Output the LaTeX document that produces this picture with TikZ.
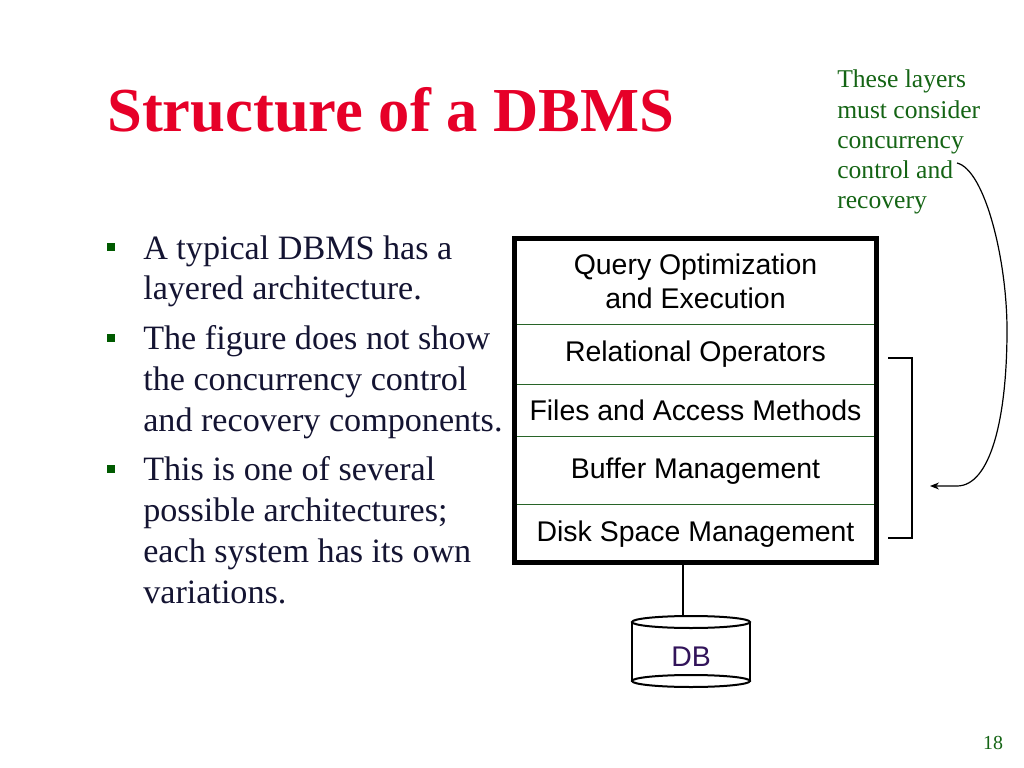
\documentclass[tikz,border=0pt]{standalone}
\usepackage{fontspec}
\setmainfont{Liberation Serif}
\newfontfamily\layerfont{Liberation Sans}
\usetikzlibrary{arrows.meta,positioning}
\newcommand{\pxunit}{0.703125pt}
\definecolor{titlered}{RGB}{230,0,40}
\definecolor{notegreen}{RGB}{20,100,20}
\definecolor{bulletgreen}{RGB}{0,90,0}
\definecolor{bodyink}{RGB}{20,20,50}
\definecolor{dbpurple}{RGB}{50,20,90}
\definecolor{sepgreen}{RGB}{40,100,40}

\begin{document}
\begin{tikzpicture}[x=\pxunit,y=-\pxunit]
    \useasboundingbox (0,0) rectangle (1024,768);

    \node[anchor=base west, inner sep=0, text=titlered,
        font=\fontsize{44}{50}\selectfont\bfseries] (title) at (107,132) {Structure of a DBMS};

    % base of a multi-line node is its last line
    \begin{scope}[every node/.style={anchor=base west, inner sep=0, align=left,
            text=bodyink, font=\fontsize{24}{28.8}\selectfont}]
        \node (b1) at (143,300) {A typical DBMS has a\\layered architecture.};
        \node (b2) at (143,431) {The figure does not show\\the concurrency control\\and recovery components.};
        \node (b3) at (143,603) {This is one of several\\possible architectures;\\each system has its own\\variations.};
    \end{scope}

    \begin{scope}[every node/.style={fill=bulletgreen, minimum size=8*\pxunit, inner sep=0}]
        \node (sq1) at (111,247) {};
        \node (sq2) at (111,338) {};
        \node (sq3) at (111,469) {};
    \end{scope}

    \begin{scope}[every node/.style={minimum width=361*\pxunit, inner sep=0, align=center,
            font=\layerfont\fontsize{20}{23.5}\selectfont}]
        \node[minimum height=85*\pxunit] (query) at (695.5,281.5) {Query Optimization\\and Execution};
        \node[minimum height=60*\pxunit, below=0pt of query] (relop) {Relational Operators};
        \node[minimum height=51*\pxunit, below=0pt of relop] (files) {Files and Access Methods};
        \node[minimum height=68*\pxunit, below=0pt of files] (buffer) {Buffer Management};
        \node[minimum height=57*\pxunit, below=0pt of buffer] (disk) {Disk Space Management};
    \end{scope}

    \foreach \lay in {relop,files,buffer,disk}
        \draw[sepgreen, line width=1*\pxunit] (\lay.north west) -- (\lay.north east);
    \draw[line width=4.5*\pxunit] (query.north west) rectangle (disk.south east);

    % the database drum
    \draw[line width=2*\pxunit, fill=white] (632,622) -- (632,681) -- (750,681) -- (750,622);
    \draw[line width=2*\pxunit, fill=white] (691,681) ellipse [x radius=59, y radius=6];
    \draw[line width=2*\pxunit, fill=white] (691,622) ellipse [x radius=59, y radius=6];
    \node[text=dbpurple, font=\layerfont\fontsize{20}{24}\selectfont] (db) at (691,657) {DB};
    \coordinate (dbtop) at (683,616);
    \draw[line width=2*\pxunit] (disk.south -| dbtop) -- (dbtop);

    \node[anchor=base west, inner sep=0, align=left, text=notegreen,
        font=\fontsize{18}{21.3}\selectfont] (note) at (837,209)
        {These layers\\must consider\\concurrency\\control and\\recovery};

    \draw[line width=1.2*\pxunit] (888,358) -- (912,358) -- (912,538) -- (888,538);

    \coordinate (curvestart) at (957,163);
    \coordinate (curveend) at (930,486);
    \draw[line width=1.2*\pxunit, -{Stealth[length=9*\pxunit, width=7*\pxunit]}]
        (curvestart) .. controls (985,170) and (1007,260) .. (1007,330)
        .. controls (1007,420) and (990,486) .. (957,486) -- (curveend);

    \node[anchor=base, inner sep=0, text=notegreen,
        font=\fontsize{14}{16}\selectfont] (pagenum) at (993,749) {18};
\end{tikzpicture}
\end{document}
